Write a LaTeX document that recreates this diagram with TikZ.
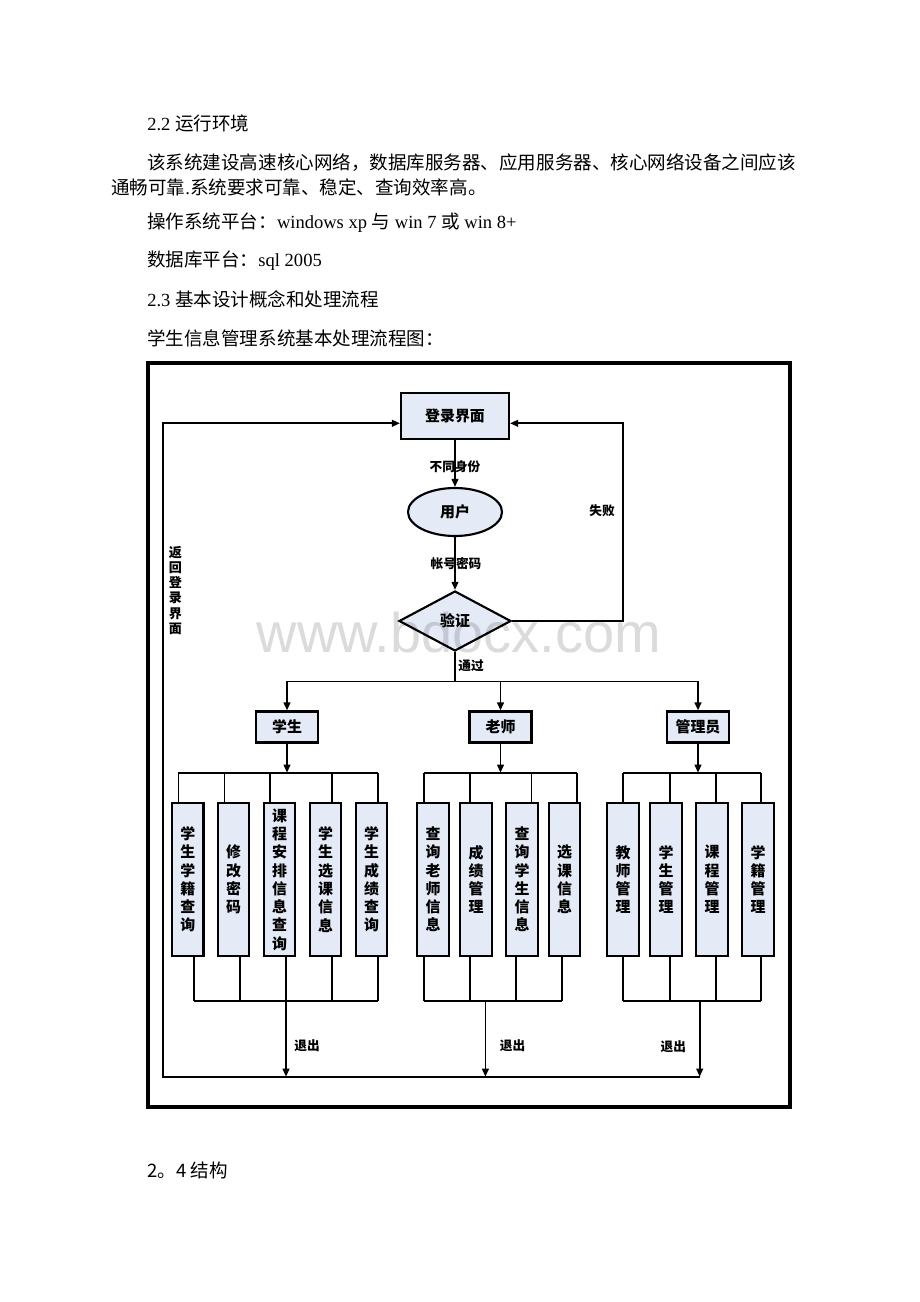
\documentclass[tikz,border=0pt]{standalone}
\usepackage{fontspec}
\setmainfont{Liberation Serif}
\newfontfamily\cjk{Noto Sans CJK SC}
\newfontfamily\wmfont{Liberation Sans}
\usetikzlibrary{arrows.meta,shapes.geometric}
\newdimen\px \px=0.75pt
\definecolor{boxfill}{RGB}{228,234,246}
\begin{document}
\begin{tikzpicture}[x=0.75pt,y=-0.75pt,
  body/.style={anchor=west,inner sep=0pt,font=\fontsize{13.9}{17}\selectfont},
  conn/.style={line width=1.35pt},
  arr/.style={line width=1.35pt,-{Triangle[length=6pt,width=5pt]}},
  bx/.style={draw,line width=1.6pt,fill=boxfill,inner sep=0pt,font=\cjk\bfseries\fontsize{11.2}{13.7}\selectfont},
  vbox/.style={bx,minimum width=31.3\px,minimum height=152.4\px,align=center},
  lbl/.style={font=\cjk\bfseries\fontsize{9.5}{11.3}\selectfont,inner sep=0pt}]
\fill[white] (0,0) rectangle (920,1302);
\useasboundingbox (0,0) rectangle (920,1302);

% header text
\node[body] (h1) at (147,123) {2.2 {\cjk 运行环境}};
\node[body] (h2) at (147,163) {\cjk 该系统建设高速核心网络，数据库服务器、应用服务器、核心网络设备之间应该};
\node[body] (h3) at (111,187) {{\cjk 通畅可靠}.{\cjk 系统要求可靠、稳定、查询效率高。}};
\node[body] (h4) at (147,223) {{\cjk 操作系统平台：}windows xp {\cjk 与} win 7 {\cjk 或} win 8+};
\node[body] (h5) at (147,261) {{\cjk 数据库平台：}sql 2005};
\node[body] (h6) at (147,299) {2.3 {\cjk 基本设计概念和处理流程}};
\node[body] (h7) at (147,338) {\cjk 学生信息管理系统基本处理流程图：};
\node[body] (h8) at (147,1170) {\cjk 2。4 结构};

% frame
\draw[line width=2.5pt] (148,363) rectangle (790,1107);

% top part
\node[bx,minimum width=108\px,minimum height=46\px] (login) at (455,416.3) {登录界面};
\node[bx,ellipse,minimum width=94\px,minimum height=48\px] (user) at (455,512) {用户};
\node[bx,diamond,shape aspect=1.87,minimum width=112\px,minimum height=60\px] (verify) at (455,621) {验证};

\draw[arr] (login) -- (user);
\draw[arr] (user) -- (verify);
\node[lbl] (l1) at (455,467) {不同身份};
\node[lbl] (l2) at (456,564) {帐号密码};

% fail loop
\coordinate (fr) at (623,621);
\coordinate (frT) at (623,423.3);
\draw[arr] (verify.east) -- (fr) -- (frT) -- (frT -| login.east);
\node[lbl] (l3) at (602,511) {失败};

% roles
\node[bx,minimum width=62\px,minimum height=31\px] (stu) at (287,727) {学生};
\node[bx,minimum width=62\px,minimum height=31\px] (tea) at (500.5,727) {老师};
\node[bx,minimum width=62\px,minimum height=31\px] (adm) at (698,727) {管理员};

\coordinate (bus) at (455,681.5);
\draw[conn] (verify.south) -- (bus);
\draw[arr] (bus) -| (stu.north);
\draw[arr] (bus) -| (adm.north);
\draw[arr] (bus -| tea.north) -- (tea.north);
\node[lbl] (l4) at (471,666) {通过};

% student group
\node[vbox] (s1) at (187.8,879.5) {学\\生\\学\\籍\\查\\询};
\node[vbox] (s2) at (233.7,879.5) {修\\改\\密\\码};
\node[vbox] (s3) at (279.7,879.5) {课\\程\\安\\排\\信\\息\\查\\询};
\node[vbox] (s4) at (325.7,879.5) {学\\生\\选\\课\\信\\息};
\node[vbox] (s5) at (371.6,879.5) {学\\生\\成\\绩\\查\\询};
\foreach \i/\x in {1/178.4,2/224.4,3/270.3,4/332,5/378}
  \coordinate (st\i) at (\x,772.7);
\foreach \i/\x in {1/194,2/240,3/286,4/332,5/378}
  \coordinate (sd\i) at (\x,1000.7);
\draw[conn] (st1) -- (st5);
\draw[arr] (stu.south) -- (stu.south |- st1);
\foreach \i in {1,...,5} {
  \draw[conn] (st\i) -- (st\i |- s\i.north);
  \draw[conn] (sd\i |- s\i.south) -- (sd\i);
}
\draw[conn] (sd1) -- (sd5);

% teacher group
\node[vbox] (t1) at (433,879.5) {查\\询\\老\\师\\信\\息};
\node[vbox] (t2) at (476,879.5) {成\\绩\\管\\理};
\node[vbox] (t3) at (522,879.5) {查\\询\\学\\生\\信\\息};
\node[vbox] (t4) at (564.5,879.5) {选\\课\\信\\息};
\foreach \i/\x in {1/424,2/470,3/531.4,4/577.3}
  \coordinate (tt\i) at (\x,772.7);
\foreach \i/\x in {1/424,2/470,3/516,4/562}
  \coordinate (td\i) at (\x,1000.7);
\draw[conn] (tt1) -- (tt4);
\draw[arr] (tea.south) -- (tea.south |- tt1);
\foreach \i in {1,...,4} {
  \draw[conn] (tt\i) -- (tt\i |- t\i.north);
  \draw[conn] (td\i |- t\i.south) -- (td\i);
}
\draw[conn] (td1) -- (td4);

% admin group
\node[vbox] (a1) at (623,879.5) {教\\师\\管\\理};
\node[vbox] (a2) at (666,879.5) {学\\生\\管\\理};
\node[vbox] (a3) at (712,879.5) {课\\程\\管\\理};
\node[vbox] (a4) at (758,879.5) {学\\籍\\管\\理};
\foreach \i/\x in {1/623.3,2/670,3/716,4/761}
  \coordinate (at\i) at (\x,772.7);
\foreach \i/\x in {1/623.3,2/670,3/716,4/761}
  \coordinate (ad\i) at (\x,1000.7);
\draw[conn] (at1) -- (at4);
\draw[arr] (adm.south) -- (adm.south |- at1);
\foreach \i in {1,...,4} {
  \draw[conn] (at\i) -- (at\i |- a\i.north);
  \draw[conn] (ad\i |- a\i.south) -- (ad\i);
}
\draw[conn] (ad1) -- (ad4);

% exits
\coordinate (sx) at (286,1000.7);
\coordinate (sxe) at (286,1076.7);
\coordinate (tx) at (485.4,1000.7);
\coordinate (txe) at (485.4,1076.7);
\coordinate (ax) at (699.7,1000.7);
\coordinate (axe) at (699.7,1076.7);
\draw[arr] (sx) -- (sxe);
\draw[arr] (tx) -- (txe);
\draw[arr] (ax) -- (axe);
\node[lbl] (e1) at (307,1045.7) {退出};
\node[lbl] (e2) at (512.6,1045.7) {退出};
\node[lbl] (e3) at (673.4,1046.7) {退出};

% return loop
\coordinate (ret) at (163,1076.7);
\coordinate (retT) at (163,423.3);
\draw[arr] (axe) -- (ret) -- (retT) -- (retT -| login.west);
\node[lbl,align=center,font=\cjk\bfseries\fontsize{9.8}{11.3}\selectfont] (l5) at (175.5,590.5) {返\\回\\登\\录\\界\\面};

% watermark
\node[anchor=base,inner sep=0pt,font=\wmfont\fontsize{42}{50}\selectfont,text=black,text opacity=0.14] (wm) at (459,652) {www.bdocx.com};
\end{tikzpicture}
\end{document}
